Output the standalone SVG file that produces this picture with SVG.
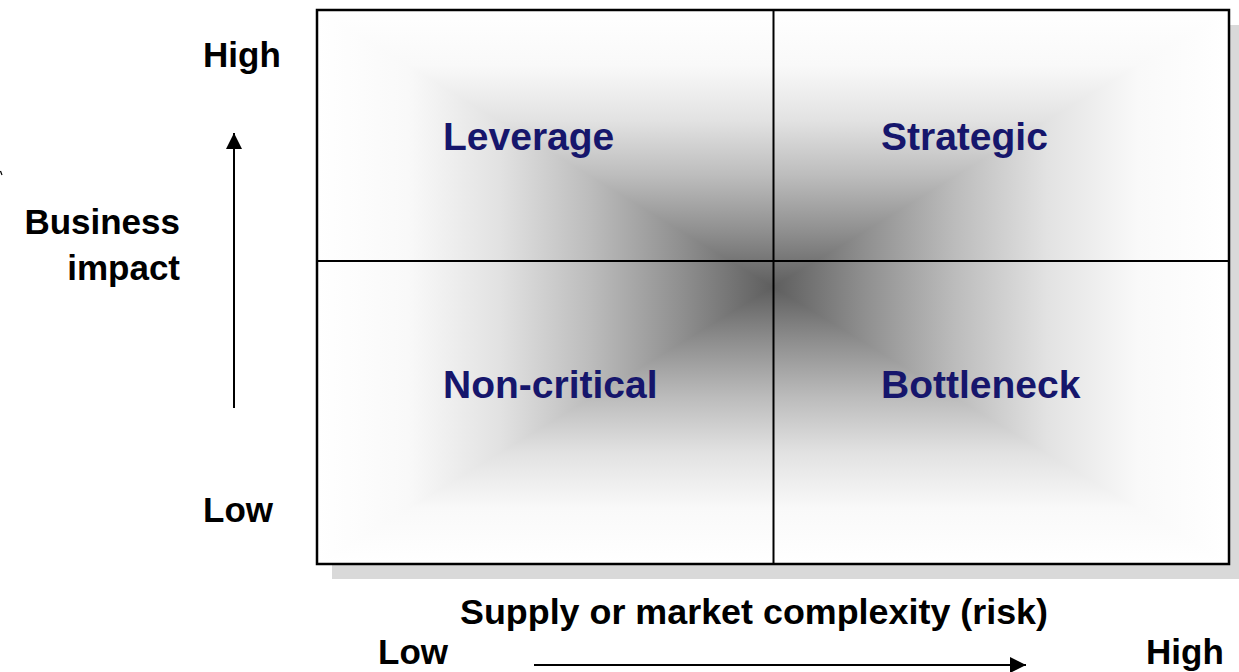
<svg xmlns="http://www.w3.org/2000/svg" width="1239" height="672" viewBox="0 0 1239 672">
  <style>
    .axis { font-family: "Liberation Sans", Arial, sans-serif; font-weight: bold; font-size: 35px; fill: #000; }
    .quad { font-family: "Liberation Sans", Arial, sans-serif; font-weight: bold; font-size: 39px; fill: #16166c; }
    .rule { stroke: #000; stroke-width: 2; fill: none; }
    .arrow { stroke: #000; stroke-width: 2; fill: none; }
  </style>
  <defs>
    <!-- rectangular "from centre" shading built from a horizontal and a vertical ramp -->
    <linearGradient id="rampX" gradientUnits="userSpaceOnUse" x1="317" y1="0" x2="773" y2="0" spreadMethod="reflect">
      <stop offset="0" stop-color="#ffffff"/>
      <stop offset="0.2" stop-color="#f9f9f9"/>
      <stop offset="0.4" stop-color="#e2e2e2"/>
      <stop offset="0.6" stop-color="#bcbcbc"/>
      <stop offset="0.8" stop-color="#8f8f8f"/>
      <stop offset="1" stop-color="#5e5e5e"/>
    </linearGradient>
    <linearGradient id="rampY" gradientUnits="userSpaceOnUse" x1="0" y1="10" x2="0" y2="287" spreadMethod="reflect">
      <stop offset="0" stop-color="#ffffff"/>
      <stop offset="0.2" stop-color="#f9f9f9"/>
      <stop offset="0.4" stop-color="#e2e2e2"/>
      <stop offset="0.6" stop-color="#bcbcbc"/>
      <stop offset="0.8" stop-color="#8f8f8f"/>
      <stop offset="1" stop-color="#5e5e5e"/>
    </linearGradient>
    <marker id="head" viewBox="0 0 16 16" refX="16" refY="8" markerWidth="16" markerHeight="16" markerUnits="userSpaceOnUse" orient="auto">
      <path d="M0,0 L16,8 L0,16 Z" fill="#000"/>
    </marker>
  </defs>

  <!-- stray mark at the left edge -->
  <path d="M0.5,171 L2,175" stroke="#000" stroke-width="1.2"/>

  <!-- matrix frame -->
  <g id="matrix">
    <rect x="332" y="25" width="912" height="554" fill="#d9d9d9"/>
    <rect x="317" y="10" width="912" height="554" fill="url(#rampX)"/>
    <polygon points="317,10 1229,10 773,287" fill="url(#rampY)"/>
    <polygon points="317,564 1229,564 773,287" fill="url(#rampY)"/>
    <rect x="317" y="10" width="912" height="554" fill="none" stroke="#000" stroke-width="2.5"/>
  </g>

  <g id="dividers">
    <line class="rule" x1="773.5" y1="10" x2="773.5" y2="564"/>
    <line class="rule" x1="317" y1="261" x2="1229" y2="261"/>
  </g>

  <g id="q-leverage"><text class="quad" x="443" y="150">Leverage</text></g>
  <g id="q-strategic"><text class="quad" x="881" y="150">Strategic</text></g>
  <g id="q-noncritical"><text class="quad" x="443" y="398">Non-critical</text></g>
  <g id="q-bottleneck"><text class="quad" x="881" y="398">Bottleneck</text></g>

  <!-- vertical axis -->
  <g id="y-axis">
    <text class="axis" x="203" y="67">High</text>
    <text class="axis" x="180" y="234" text-anchor="end">Business</text>
    <text class="axis" x="180" y="280" text-anchor="end">impact</text>
    <text class="axis" x="203" y="522">Low</text>
  </g>

  <!-- horizontal axis -->
  <g id="x-axis">
    <text class="axis" x="460" y="624" textLength="588" lengthAdjust="spacingAndGlyphs">Supply or market complexity (risk)</text>
    <text class="axis" x="378" y="664">Low</text>
    <text class="axis" x="1146" y="664">High</text>
  </g>

  <g id="connectors">
    <line class="arrow" x1="234" y1="408" x2="234" y2="133" marker-end="url(#head)"/>
    <line class="arrow" x1="534" y1="665" x2="1026" y2="665" marker-end="url(#head)"/>
  </g>
</svg>
